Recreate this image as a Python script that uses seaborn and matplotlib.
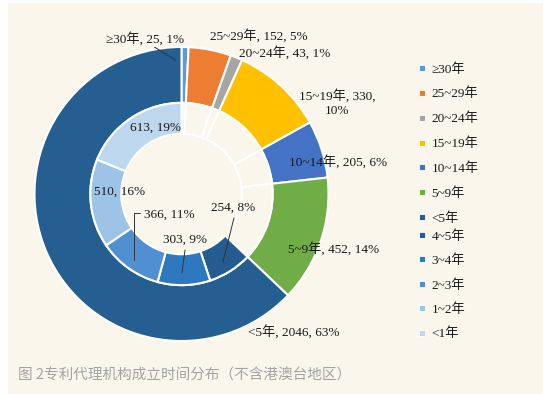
import matplotlib
matplotlib.use('Agg')
import matplotlib.pyplot as plt
from matplotlib.lines import Line2D
from matplotlib.patches import Rectangle
import seaborn as sns

outer_labels = ['≥30年', '25~29年', '20~24年', '15~19年', '10~14年', '5~9年', '<5年']
outer_values = [25, 152, 43, 330, 205, 452, 2046]
inner_labels = ['4~5年', '3~4年', '2~3年', '1~2年', '<1年']
inner_values = [254, 303, 366, 510, 613]

outer_colors = ['#5B9BD5', '#ED7D31', '#A5A5A5', '#FFC000', '#4472C4', '#70AD47', '#255E91']
inner_colors = ['#245C8F', '#2E78C0', '#4F8FD2', '#9DC3E6', '#BDD7EE']
bg = '#FAF6EB'

sns.set_theme(style='white')
serif = ['Liberation Serif', 'Noto Sans CJK SC']
plt.rcParams['font.family'] = serif

total = sum(outer_values)

fig = plt.figure(figsize=(5.56, 3.94), dpi=100, facecolor='white')
fig.patches.append(Rectangle((8 / 556, 0), 535 / 556, 391 / 394, transform=fig.transFigure,
                             facecolor=bg, edgecolor='none', zorder=-10))

ax = fig.add_axes([34.5 / 556, 53 / 394, 294 / 556, 294 / 394])
ax.set_facecolor('none')

wp = dict(edgecolor='white', linewidth=1.5)
ax.pie(outer_values, radius=1.0, colors=outer_colors, startangle=90, counterclock=False,
       wedgeprops=dict(width=0.38, **wp))
# inner ring: the first six groups are left blank, <5年 is split up
inner_all = outer_values[:-1] + inner_values
inner_all_colors = [bg] * (len(outer_values) - 1) + inner_colors
ax.pie(inner_all, radius=0.62, colors=inner_all_colors, startangle=90, counterclock=False,
       wedgeprops=dict(width=0.21, **wp))
ax.set_xlim(-1, 1)
ax.set_ylim(-1, 1)
ax.set_aspect('equal')
ax.axis('off')


def lab(name, v):
    return f'{name}, {v}, {round(v / total * 100)}%'


fs = 9.5
tc = '#1a1a1a'
# outer labels
ax.text(-0.25, 1.054, lab(outer_labels[0], outer_values[0]), ha='center', va='center', fontsize=fs, color=tc)
ax.plot([-0.04, -0.20], [0.91, 1.01], color='#333333', lw=0.7)
ax.text(0.527, 1.075, lab(outer_labels[1], outer_values[1]), ha='center', va='center', fontsize=fs, color=tc)
ax.text(0.704, 0.959, lab(outer_labels[2], outer_values[2]), ha='center', va='center', fontsize=fs, color=tc)
ax.text(1.058, 0.619, f'{outer_labels[3]}, {outer_values[3]},\n{round(outer_values[3] / total * 100)}%',
        ha='center', va='center', fontsize=fs, color=tc, linespacing=1.3)
ax.text(1.065, 0.218, lab(outer_labels[4], outer_values[4]), ha='center', va='center', fontsize=fs, color=tc)
ax.text(1.037, -0.374, lab(outer_labels[5], outer_values[5]), ha='center', va='center', fontsize=fs, color=tc)
ax.text(0.765, -0.939, lab(outer_labels[6], outer_values[6]), ha='center', va='center', fontsize=fs, color=tc)

# inner labels
def ilab(v):
    return f'{v}, {round(v / total * 100)}%'


ax.text(0.35, -0.095, ilab(inner_values[0]), ha='center', va='center', fontsize=fs, color=tc)
ax.plot([0.282, 0.357], [-0.463, -0.163], color='#333333', lw=0.7)
ax.text(0.024, -0.313, ilab(inner_values[1]), ha='center', va='center', fontsize=fs, color=tc)
ax.plot([0.003, 0.024], [-0.537, -0.381], color='#333333', lw=0.7)
ax.text(-0.085, -0.143, ilab(inner_values[2]), ha='center', va='center', fontsize=fs, color=tc)
ax.plot([-0.323, -0.323, -0.282], [-0.449, -0.129, -0.129], color='#333333', lw=0.7)
ax.text(-0.418, 0.014, ilab(inner_values[3]), ha='center', va='center', fontsize=fs, color=tc)
ax.text(-0.18, 0.449, ilab(inner_values[4]), ha='center', va='center', fontsize=fs, color=tc)

# legends
def handles(colors):
    return [Line2D([], [], marker='s', linestyle='none', markersize=4.5,
                   markerfacecolor=c, markeredgecolor='white', markeredgewidth=0.6) for c in colors]


leg_kw = dict(frameon=False, fontsize=fs, handlelength=0.8, handletextpad=0.3,
              borderpad=0, borderaxespad=0, labelcolor=tc, bbox_transform=fig.transFigure,
              loc='upper left')
leg1 = fig.legend(handles(outer_colors), outer_labels, bbox_to_anchor=(417 / 556, 1 - 63 / 394),
                  labelspacing=0.93, **leg_kw)
leg2 = fig.legend(handles(inner_colors), inner_labels, bbox_to_anchor=(417 / 556, 1 - 230 / 394),
                  labelspacing=0.9, **leg_kw)

fig.text(18 / 556, 1 - 376 / 394, '图 2专利代理机构成立时间分布（不含港澳台地区）', ha='left', va='center',
         fontsize=10.5, color='#A3A3A3', family=['Noto Sans CJK SC', 'DejaVu Sans'])

fig.savefig('out.png', dpi=100, facecolor='white')
